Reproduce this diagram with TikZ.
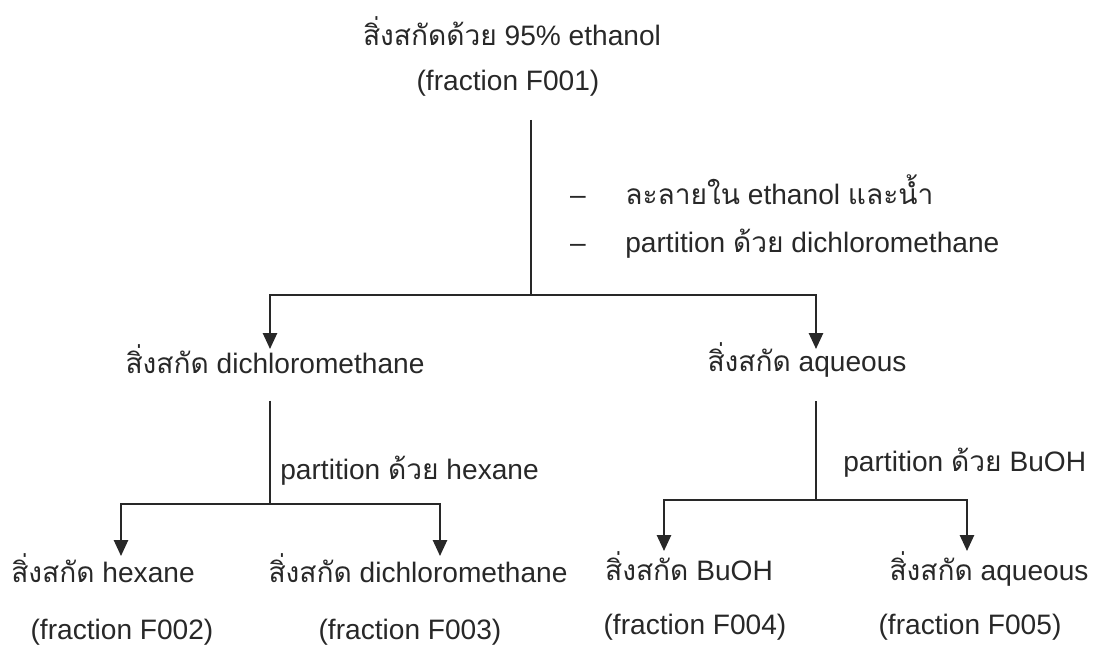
\documentclass[tikz,border=0pt]{standalone}
\usepackage{fontspec}
\setmainfont{Liberation Sans}
\newfontfamily\thaifont[Script=Thai]{Loma}
\newcommand{\tht}[1]{{\thaifont #1}}
\usetikzlibrary{arrows.meta}
\definecolor{ink}{RGB}{40,40,40}

\begin{document}
\begin{tikzpicture}[
    x=0.02cm, y=-0.02cm,
    >={Triangle[length=9pt,width=8pt]},
    every node/.style={font=\fontsize{16}{19}\selectfont, text=ink, inner sep=0pt},
    txt/.style={anchor=base},
    lab/.style={anchor=base west},
    trunk/.style={draw=ink, line width=0.7pt},
    branch/.style={->, draw=ink, line width=1.1pt}
]
\useasboundingbox (0,0) rectangle (1096,645);

%------------------------------------------------
% Nodes
%------------------------------------------------
\node[txt] (crude) at (512,46)  {\tht{สิ่งสกัดด้วย} 95\% ethanol};
\node[txt] (f001)  at (508,91)  {(fraction F001)};

\node[txt] (dash1) at (578,205) {--};
\node[lab] (step1) at (625,205) {\tht{ละลายใน} ethanol \tht{และน้ำ}};
\node[txt] (dash2) at (578,253) {--};
\node[lab] (step2) at (625,253) {partition \tht{ด้วย} dichloromethane};

\node[txt] (dcm)   at (275,374) {\tht{สิ่งสกัด} dichloromethane};
\node[txt] (aq)    at (807,372) {\tht{สิ่งสกัด} aqueous};

\node[lab] (hexlab)  at (280,479) {partition \tht{ด้วย} hexane};
\node[lab] (buohlab) at (843,471) {partition \tht{ด้วย} BuOH};

\node[txt] (hex)   at (103,582) {\tht{สิ่งสกัด} hexane};
\node[txt] (f002)  at (122,639) {(fraction F002)};
\node[txt] (dcmb)  at (418,582) {\tht{สิ่งสกัด} dichloromethane};
\node[txt] (f003)  at (410,639) {(fraction F003)};
\node[txt] (buoh)  at (689,580) {\tht{สิ่งสกัด} BuOH};
\node[txt] (f004)  at (695,634) {(fraction F004)};
\node[txt] (aqb)   at (989,580) {\tht{สิ่งสกัด} aqueous};
\node[txt] (f005)  at (970,634) {(fraction F005)};

%------------------------------------------------
% Split points and arrow ends
%------------------------------------------------
\coordinate (t0) at (531,120);
\coordinate (s0) at (531,295);
\coordinate (s1) at (270,504);
\coordinate (s2) at (816,500);

\coordinate (a1) at (270,349);
\coordinate (a2) at (816,349);
\coordinate (b1) at (121,556);
\coordinate (b2) at (440,556);
\coordinate (c1) at (664,551);
\coordinate (c2) at (967,551);

%------------------------------------------------
% Connectors
%------------------------------------------------
\draw[trunk] (t0) -- (s0);
\draw[branch] (s0) -| (a1);
\draw[branch] (s0) -| (a2);

\draw[trunk] (dcm.south -| s1) ++(0,26) -- (s1);
\draw[branch] (s1) -| (b1);
\draw[branch] (s1) -| (b2);

\draw[trunk] (aq.south -| s2) ++(0,23) -- (s2);
\draw[branch] (s2) -| (c1);
\draw[branch] (s2) -| (c2);

\end{tikzpicture}
\end{document}
